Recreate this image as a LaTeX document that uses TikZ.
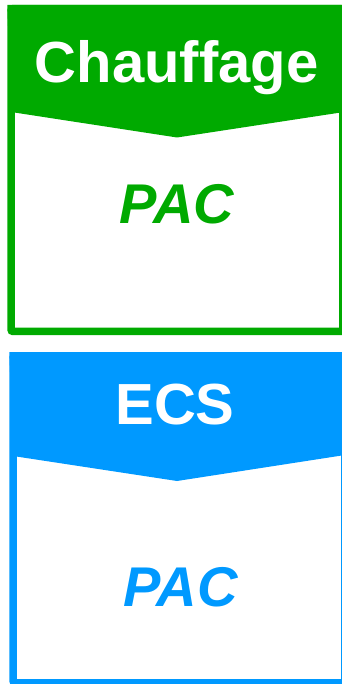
\documentclass[tikz,border=0pt]{standalone}
\usepackage{fontspec}
\setmainfont{Liberation Sans}
\usepackage{tikz}
\usetikzlibrary{positioning}

\definecolor{chgreen}{RGB}{0,170,0}
\definecolor{ecsblue}{RGB}{0,153,255}

\begin{document}
\begin{tikzpicture}[
    x=1pt, y=-1pt,
    panelstyle/.style={draw=#1, line width=7.5pt, rounded corners=2pt,
        minimum width=331.75pt, inner sep=0pt},
    headtext/.style={font=\fontsize{58}{60}\selectfont\bfseries, text=white, anchor=base, inner sep=0pt},
    bodytext/.style={font=\fontsize{56}{58}\selectfont\bfseries\itshape, text=#1, anchor=base, inner sep=0pt}
  ]
    \useasboundingbox (0,0) rectangle (342,684);
    \clip (0,0) rectangle (342,684);
    % heating panel
    \node[panelstyle=chgreen, minimum height=322.75pt] (chauf) at (176.9,170.1) {};
    \fill[chgreen] (chauf.north west) -- (chauf.north east) -- (344,112) -- (177,137.5)
        -- (11,112) -- cycle;
    \node[headtext] (chauftitle) at (176.5,83) {Chauffage};
    \node[bodytext=chgreen] (chaufpac) at (177,224) {PAC};
    % hot water panel
    \node[panelstyle=ecsblue, minimum height=327pt] (ecs) at (178.9,519.25) {};
    \fill[ecsblue] (ecs.north west) -- (ecs.north east) -- (345,455) -- (177,481)
        -- (13,456) -- cycle;
    \node[headtext] (ecstitle) at (175,424) {ECS};
    \node[bodytext=ecsblue] (ecspac) at (180.5,606) {PAC};
\end{tikzpicture}
\end{document}
